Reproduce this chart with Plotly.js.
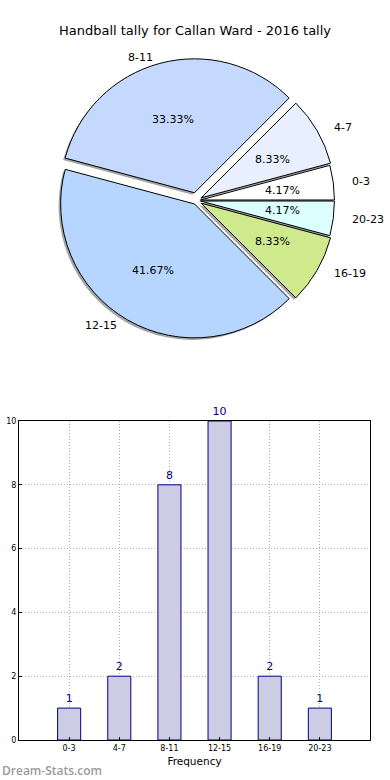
<!DOCTYPE html>
<html><head><meta charset="utf-8">
<script src="https://cdn.plot.ly/plotly-3.0.1.min.js"></script>
<style>html,body{margin:0;padding:0;background:#fff}#c{width:390px;height:780px}</style>
</head><body><div id="c"></div>
<script>
const categories = ["0-3","4-7","8-11","12-15","16-19","20-23"];
const counts = [1,2,8,10,2,1];
const sliceColors = ["#ffffff","#e8f0ff","#c5d9ff","#b7d6ff","#cfea8c","#dcffff"];
const pulls = [0.03,0.04,0.06,0.03,0.04,0.03];
const yTicks = [0,2,4,6,8,10];

const font = "DejaVu Sans, Bitstream Vera Sans, sans-serif";
const pieDomX = [0.14, 0.8679];
const pieDomY = [0.5609, 0.925];
const dx = 2/390, dy = 2/780;
// the original pie is an ellipse (wider than tall); text positions follow that shape
const labelScaleX = 1.025, labelScaleY = 0.953;

const shadow = {
  type: "pie", labels: categories, values: counts, sort: false,
  direction: "counterclockwise", rotation: 75, pull: pulls,
  marker: {colors: categories.map(()=>"rgba(90,90,90,0.55)"), line: {width: 0}},
  textinfo: "none",
  domain: {x: [pieDomX[0]-dx, pieDomX[1]-dx], y: [pieDomY[0]-dy, pieDomY[1]-dy]},
  hoverinfo: "skip", showlegend: false
};
const pie = {
  type: "pie", labels: categories, values: counts, sort: false,
  direction: "counterclockwise", rotation: 75, pull: pulls,
  marker: {colors: sliceColors, line: {color: "#000", width: 1}},
  textinfo: "none",
  domain: {x: pieDomX, y: pieDomY},
  hoverinfo: "skip", showlegend: false
};
const bars = {
  type: "bar", x: categories, y: counts, width: 0.46,
  marker: {color: "#cccce5", line: {color: "#00008b", width: 1}},
  text: counts.map(String), textposition: "outside", cliponaxis: false,
  textfont: {family: font, size: 11, color: "#00008b"},
  xaxis: "x", yaxis: "y", hoverinfo: "skip", showlegend: false
};

const layout = {
  width: 390, height: 780,
  margin: {l: 0, r: 0, t: 0, b: 0},
  paper_bgcolor: "#fff", plot_bgcolor: "#fff",
  font: {family: font, color: "#000"},
  title: {text: "Handball tally for Callan Ward - 2016 tally", font: {family: font, size: 13, color: "#000"}, x: 0.5, xanchor: "center", y: 1 - 30/780, yanchor: "middle"},
  xaxis: {
    domain: [19/390, 370/390], range: [-1, 6], type: "category",
    showline: true, linecolor: "#000", linewidth: 1, mirror: true,
    showgrid: true, gridcolor: "#b0b0b0", griddash: "1px,2px", gridwidth: 1,
    ticks: "inside", ticklen: 3, tickcolor: "#000",
    tickfont: {family: font, size: 8, color: "#000"},
    title: {text: "Frequency", font: {family: font, size: 10.5, color: "#000"}, standoff: 6},
    zeroline: false, fixedrange: true
  },
  yaxis: {
    domain: [1 - 740/780, 1 - 421/780], range: [0, 10], tickvals: yTicks,
    showline: true, linecolor: "#000", linewidth: 1, mirror: true,
    showgrid: true, gridcolor: "#b0b0b0", griddash: "1px,2px", gridwidth: 1,
    ticks: "inside", ticklen: 3, tickcolor: "#000",
    tickfont: {family: font, size: 8, color: "#000"},
    zeroline: false, fixedrange: true
  },
  annotations: [{
    text: "Dream-Stats.com", xref: "paper", yref: "paper", x: 0, y: 1 - 770/780,
    xanchor: "left", yanchor: "middle", showarrow: false,
    font: {family: "Open Sans, sans-serif", size: 12, weight: 600, color: "#9a9a9a"}
  }]
};

Plotly.newPlot("c", [shadow, pie, bars], layout, {staticPlot: true, displayModeBar: false}).then(gd => {
  // place slice labels (1.1 r) and percentages (0.6 r) like matplotlib, from the pie's own geometry
  const cd0 = gd.calcdata[1][0];
  const cx = cd0.cx, cy = cd0.cy, r = cd0.r;
  const W = gd._fullLayout.width, H = gd._fullLayout.height;
  const total = counts.reduce((a,b)=>a+b,0);
  let cum = 0;
  const ann = layout.annotations.slice();
  counts.forEach((v,i) => {
    const th = 2*Math.PI*(cum + v/2)/total;
    cum += v;
    const c = Math.cos(th) * labelScaleX, s = Math.sin(th) * labelScaleY;
    const ox = cx + pulls[i]*r*c, oy = cy - pulls[i]*r*s;
    const lx = ox + 1.1*r*c, ly = oy - 1.1*r*s;
    const px = ox + 0.6*r*c, py = oy - 0.6*r*s;
    ann.push({text: categories[i], xref: "paper", yref: "paper", x: lx/W, y: 1 - ly/H,
      xanchor: (lx > cx ? "left" : "right"), yanchor: "middle", showarrow: false,
      font: {family: font, size: 11, color: "#000"}});
    ann.push({text: (100*v/total).toFixed(2) + "%", xref: "paper", yref: "paper", x: px/W, y: 1 - py/H,
      xanchor: "center", yanchor: "middle", showarrow: false,
      font: {family: font, size: 11, color: "#000"}});
  });
  return Plotly.relayout(gd, {annotations: ann});
});
</script></body></html>
